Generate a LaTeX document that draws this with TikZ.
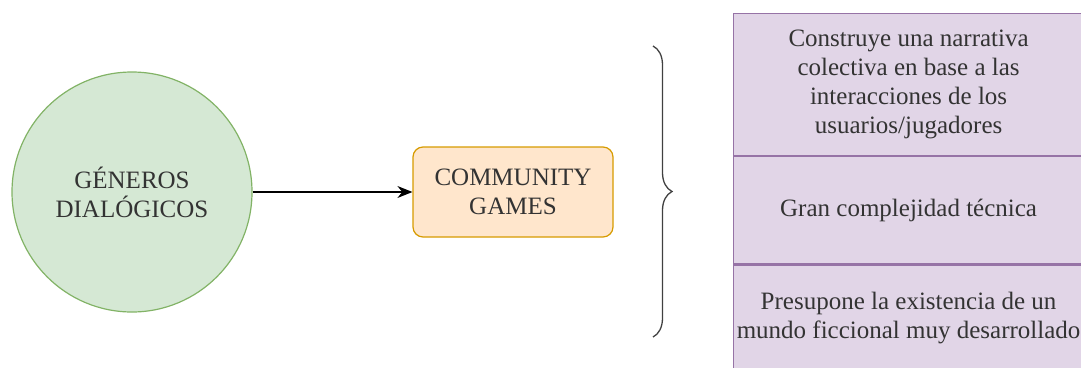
\documentclass[tikz,border=0pt]{standalone}
\usepackage{fontspec}
\setmainfont{LiberationSerif}[Extension=.ttf, UprightFont=*-Regular, BoldFont=*-Bold]
\usepackage{xcolor}
\definecolor{genfill}{HTML}{D5E8D4}
\definecolor{gendraw}{HTML}{82B366}
\definecolor{gamefill}{HTML}{FFE6CC}
\definecolor{gamedraw}{HTML}{D79B00}
\definecolor{featfill}{HTML}{E1D5E7}
\definecolor{featdraw}{HTML}{9673A6}
\usetikzlibrary{positioning,arrows.meta,decorations.pathreplacing}

\begin{document}
\begin{tikzpicture}[
      x=1pt, y=-1pt,
      font=\fontsize{25}{29}\selectfont,
      genre/.style={circle, draw=gendraw, line width=1.2pt, fill=genfill,
                    minimum size=240pt, inner sep=0pt, align=center, text=black!80},
      game/.style={rectangle, draw=gamedraw, line width=1.2pt, rounded corners=10pt,
                   fill=gamefill, minimum width=200pt, minimum height=90pt,
                   align=center, text=black!80},
      feat/.style={rectangle, draw=featdraw, line width=1.2pt, fill=featfill,
                   minimum width=350pt, inner sep=0pt, align=center, text=black!80},
    ]
    \useasboundingbox (0,0) rectangle (1081,367);

    \node[genre] (gen) at (132,192) {GÉNEROS\\DIALÓGICOS};
    \node[game] (cg) at (513,192) {COMMUNITY\\GAMES};

    \draw[-{Stealth[length=15pt,width=12pt]}, line width=1.3pt] (gen) -- (cg);

    % brace to the features
    \coordinate (bt) at (653,46);
    \coordinate (bb) at (653,337);
    \draw[decorate, decoration={brace, amplitude=19pt}, line width=1.3pt, black!75] (bt) -- (bb);

    \node[feat, minimum height=142pt, anchor=north west] (f1) at (733,13)
      {Construye una narrativa\\colectiva en base a las\\interacciones de los\\usuarios/jugadores};
    \node[feat, minimum height=107pt, below=0pt of f1] (f2) {Gran complejidad técnica};
    \node[feat, minimum height=106pt, below=0pt of f2] (f3)
      {Presupone la existencia de un\\mundo ficcional muy desarrollado};
  \end{tikzpicture}
\end{document}
